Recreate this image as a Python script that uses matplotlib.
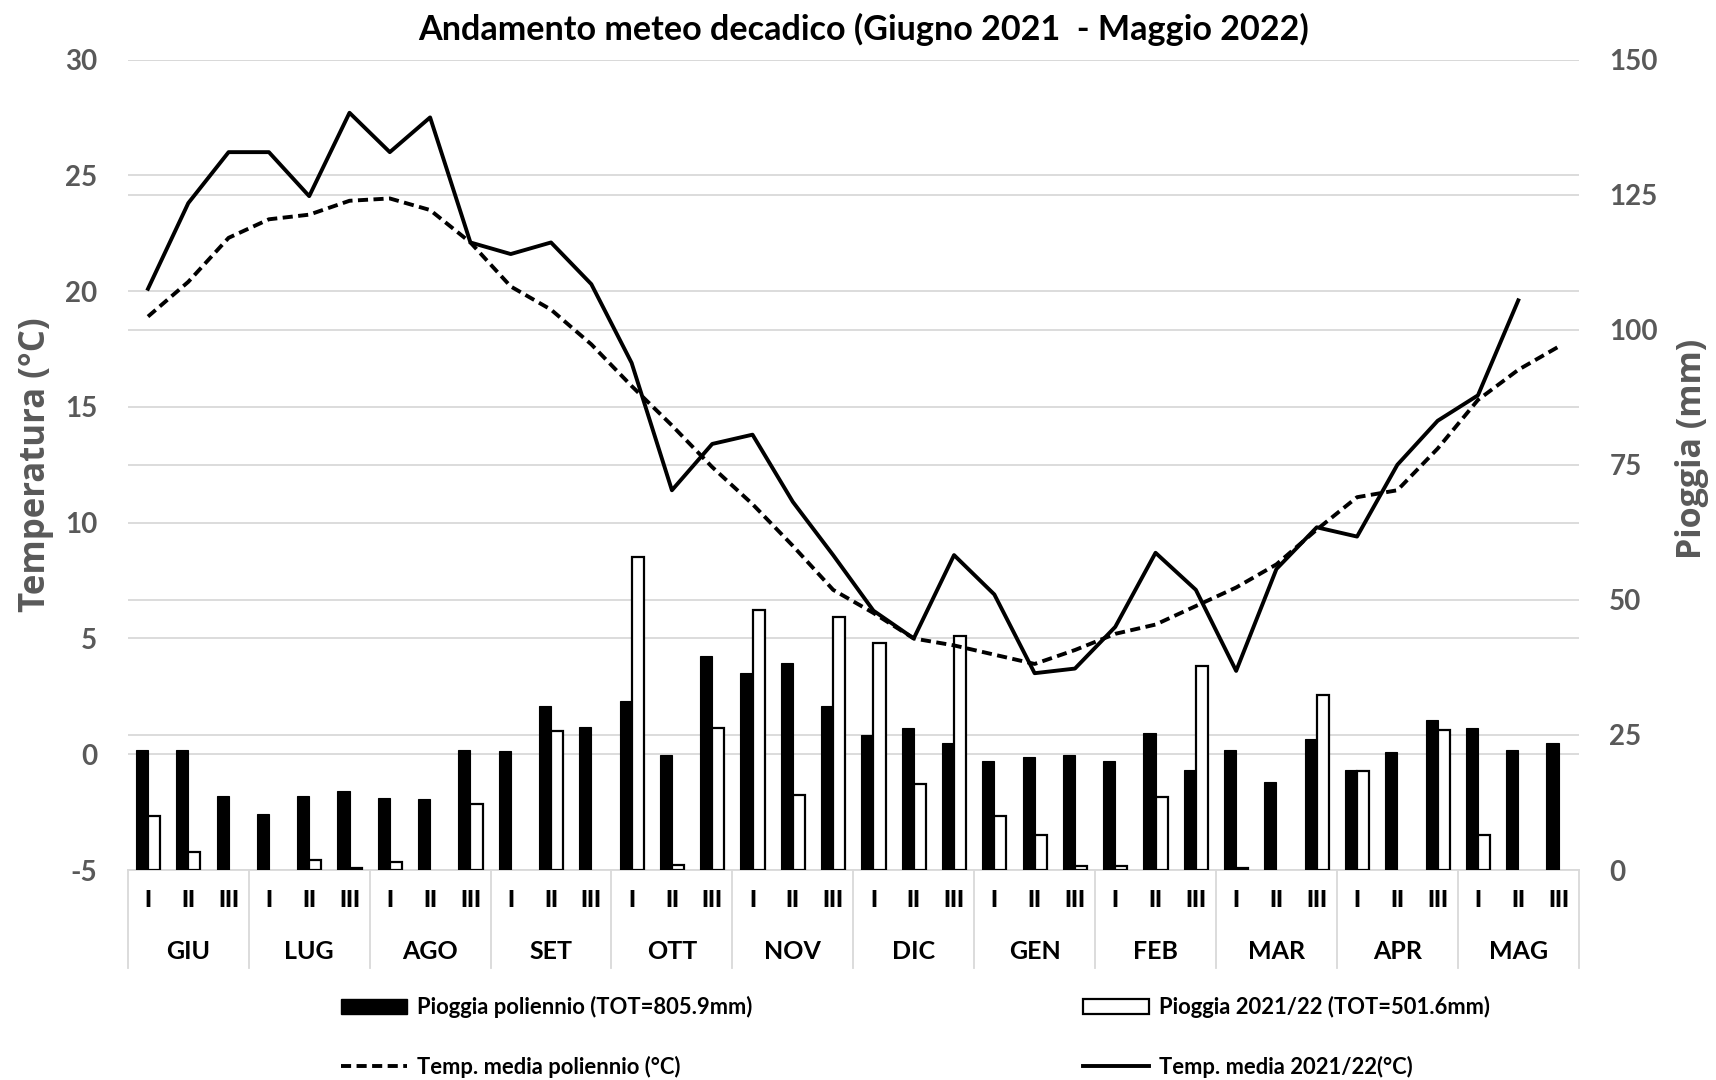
import numpy as np
import matplotlib
matplotlib.use("Agg")
import matplotlib.pyplot as plt
import matplotlib.transforms as mtransforms
from matplotlib.patches import Patch
from matplotlib.lines import Line2D

# dati decadici Giugno 2021 - Maggio 2022
mesi = ['GIU', 'LUG', 'AGO', 'SET', 'OTT', 'NOV', 'DIC', 'GEN', 'FEB', 'MAR', 'APR', 'MAG']
decadi = ['I', 'II', 'III']

pioggiaPoli = [22.3, 22.3, 13.7, 10.4, 13.7, 14.6, 13.4, 13.1, 22.3,
               22.0, 30.4, 26.5, 31.3, 21.2, 39.6, 36.4, 38.4, 30.4,
               25.0, 26.2, 23.6, 20.2, 20.9, 21.2, 20.2, 25.3, 18.5,
               22.3, 16.3, 24.2, 18.5, 21.8, 27.8, 26.2, 22.3, 23.6]
pioggia2122 = [10.0, 3.4, 0, 0, 1.9, 0.4, 1.4, 0, 12.3,
               0, 25.8, 0, 58.0, 1.0, 26.3, 48.1, 13.8, 46.9,
               42.1, 15.9, 43.3, 10.0, 6.4, 0.7, 0.7, 13.6, 37.8,
               0.4, 0, 32.4, 18.4, 0, 26.0, 6.4, 0, 0]
tempPoli = [18.9, 20.4, 22.3, 23.1, 23.3, 23.9, 24.0, 23.5, 22.1,
            20.2, 19.2, 17.7, 15.9, 14.2, 12.4, 10.8, 9.0, 7.1,
            6.1, 5.0, 4.7, 4.3, 3.9, 4.5, 5.2, 5.6, 6.4,
            7.2, 8.2, 9.7, 11.1, 11.4, 13.2, 15.3, 16.6, 17.6]
temp2122 = [20.1, 23.8, 26.0, 26.0, 24.1, 27.7, 26.0, 27.5, 22.1,
            21.6, 22.1, 20.3, 16.9, 11.4, 13.4, 13.8, 10.9, 8.6,
            6.2, 5.0, 8.6, 6.9, 3.5, 3.7, 5.5, 8.7, 7.1,
            3.6, 8.0, 9.8, 9.4, 12.5, 14.4, 15.5, 19.6, np.nan]

tempTicks = [-5, 0, 5, 10, 15, 20, 25, 30]
pioggiaTicks = [0, 25, 50, 75, 100, 125, 150]

plt.rcParams['font.family'] = ['Lato', 'DejaVu Sans']
plt.rcParams['font.weight'] = 'bold'
plt.rcParams['axes.unicode_minus'] = False

grigio = '#595959'
griglia = '#d9d9d9'

fig = plt.figure(figsize=(17.16, 10.8), dpi=100)
axR = fig.add_axes([0.0745, 0.1944, 0.8455, 0.7505])
axT = axR.twinx()

n = len(pioggiaPoli)
x = np.arange(n)
w = 0.3

# barre pioggia (asse destro)
hp = np.array(pioggiaPoli)
h2 = np.array(pioggia2122)
axR.bar(x - w / 2, hp, width=w, color='black', edgecolor='black', linewidth=0.8, zorder=2)
m = h2 > 0
axR.bar(x[m] + w / 2, h2[m], width=w, color='white', edgecolor='black', linewidth=1.6, zorder=2)

axR.set_ylim(0, 150)
axR.set_yticks(pioggiaTicks)
axR.yaxis.tick_right()
axR.grid(axis='y', color=griglia, linewidth=1.3, zorder=0)
axR.set_axisbelow(True)

# temperature (asse sinistro)
axT.plot(x, tempPoli, color='black', linewidth=2.8, dashes=(2.6, 1.4), zorder=3)
axT.plot(x, temp2122, color='black', linewidth=2.8, zorder=3)
axT.set_ylim(-5, 30)
axT.set_yticks(tempTicks)
axT.yaxis.tick_left()

# griglia della temperatura disegnata sotto le barre
trT = mtransforms.blended_transform_factory(axR.transAxes, axT.transData)
for t in tempTicks[1:]:
    axR.plot([0, 1], [t, t], transform=trT, color=griglia, linewidth=1.3, zorder=0.5)

axR.set_xlim(-0.5, n - 0.5)
axT.set_xlim(-0.5, n - 0.5)

for a in (axR, axT):
    for s in ['top', 'left', 'right', 'bottom']:
        a.spines[s].set_visible(False)
    a.tick_params(axis='both', length=0)
    a.set_xticks([])

axR.tick_params(axis='y', labelsize=20, labelcolor=grigio, pad=22)
axT.tick_params(axis='y', labelsize=20, labelcolor=grigio, pad=22)

# asse x a due livelli (decadi + mesi)
trX = mtransforms.blended_transform_factory(axR.transData, axR.transAxes)
axR.plot([-0.5, n - 0.5], [0, 0], transform=trX, color=griglia, linewidth=1.3, clip_on=False, zorder=1)
for k in range(len(mesi) + 1):
    xs = 3 * k - 0.5
    axR.plot([xs, xs], [0, -0.121], transform=trX, color=griglia, linewidth=1.3, clip_on=False)
for i in range(n):
    axR.text(i, -0.038, decadi[i % 3], transform=trX, ha='center', va='center',
             fontsize=16, fontweight='heavy', color='black')
for k, mese in enumerate(mesi):
    axR.text(3 * k + 1, -0.1, mese, transform=trX, ha='center', va='center',
             fontsize=18, fontweight='bold', color='black')

fig.text(0.503, 0.973, 'Andamento meteo decadico (Giugno 2021  - Maggio 2022)',
         ha='center', va='center', fontsize=24.6, fontweight='bold', color='black')
fig.text(0.021, 0.57, 'Temperatura (°C)', rotation=90, ha='center', va='center',
         fontsize=25, fontweight='bold', color=grigio, family=['Open Sans', 'DejaVu Sans'])
fig.text(0.986, 0.584, 'Pioggia (mm)', rotation=90, ha='center', va='center',
         fontsize=24.5, fontweight='bold', color=grigio, family=['Open Sans', 'DejaVu Sans'])

# legenda su due colonne
h1 = [Patch(facecolor='black', edgecolor='black'),
      Line2D([], [], color='black', linewidth=2.8, dashes=(2.6, 1.4))]
l1 = ['Pioggia poliennio (TOT=805.9mm)', 'Temp. media poliennio (°C)']
h2l = [Patch(facecolor='white', edgecolor='black', linewidth=1.6),
       Line2D([], [], color='black', linewidth=2.8)]
l2 = ['Pioggia 2021/22 (TOT=501.6mm)', 'Temp. media 2021/22(°C)']
for hh, ll, xa in ((h1, l1, 341 / 1716), (h2l, l2, 1083 / 1716)):
    leg = fig.legend(hh, ll, loc='upper left', bbox_to_anchor=(xa, 0.0775),
                     frameon=False, fontsize=15.8, handlelength=3.0, handleheight=0.7,
                     handletextpad=0.45, labelspacing=1.7, borderpad=0, borderaxespad=0)
    for t in leg.get_texts():
        t.set_fontweight('bold')

fig.savefig('out.png', dpi=100)
